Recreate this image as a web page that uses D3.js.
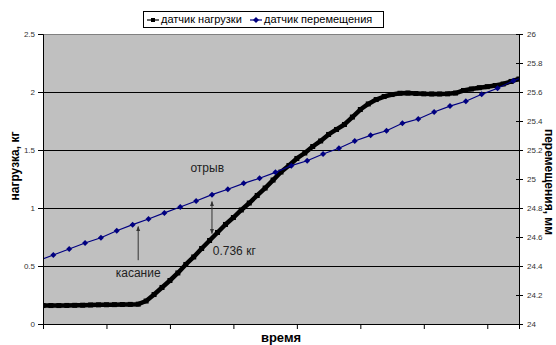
<!DOCTYPE html>
<html>
<head>
<meta charset="utf-8">
<script src="https://cdn.jsdelivr.net/npm/d3@7"></script>
<style>
  body { margin: 0; background: #fff; }
  text { font-family: "Liberation Sans", Arial, sans-serif; }
</style>
</head>
<body>
<svg id="chart" width="556" height="345"></svg>
<script>
// load sensor, one reading every 5 samples (kg)
const loadKg = [
  0.159, 0.159, 0.159, 0.160, 0.161, 0.162, 0.164, 0.165, 0.166, 0.167,
  0.168, 0.169, 0.171, 0.198, 0.254, 0.315, 0.375, 0.440, 0.513, 0.578,
  0.651, 0.720, 0.789, 0.858, 0.918, 0.983, 1.043, 1.108, 1.172, 1.241,
  1.310, 1.366, 1.427, 1.474, 1.530, 1.578, 1.634, 1.677, 1.720, 1.784,
  1.849, 1.897, 1.935, 1.961, 1.978, 1.989, 1.991, 1.987, 1.984, 1.983,
  1.983, 1.984, 1.991, 2.013, 2.026, 2.037, 2.046, 2.056, 2.069, 2.091,
  2.112
];
const loadStep = 5;

// displacement sensor, one reading every 10 samples (mm), starts just before the window
const dispMm = [
  24.434,
  24.476, 24.517, 24.559, 24.595, 24.643, 24.685, 24.724, 24.766, 24.807, 24.848,
  24.892, 24.929, 24.970, 25.005, 25.046, 25.092, 25.126, 25.172, 25.212, 25.262,
  25.301, 25.333, 25.384, 25.414, 25.462, 25.503, 25.536, 25.584, 25.626, 25.678,
  25.720
];
const dispStart = -3.5, dispStep = 10;

const leftTicks = [0, 0.5, 1, 1.5, 2, 2.5];
const rightTicks = [24, 24.2, 24.4, 24.6, 24.8, 25, 25.2, 25.4, 25.6, 25.8, 26];
const timeTicks = [0, 40, 80, 120, 160, 200, 240, 280];
const seriesNames = ['датчик нагрузки', 'датчик перемещения'];

const margin = {left: 43, right: 37, top: 34, bottom: 21};
const W = 556, H = 345;
const pw = W - margin.left - margin.right,
      ph = H - margin.top - margin.bottom;

const svg = d3.select('#chart');

const x = d3.scaleLinear().domain([0, 300]).range([0, pw]);
const yL = d3.scaleLinear().domain([0, 2.5]).range([ph, 0]);
const yR = d3.scaleLinear().domain([24, 26]).range([ph, 0]);

const defs = svg.append('defs');
defs.append('clipPath').attr('id', 'plotclip')
  .append('rect').attr('width', pw).attr('height', ph);
defs.append('marker')
  .attr('id', 'head')
  .attr('viewBox', '0 0 10 10')
  .attr('refX', 9).attr('refY', 5)
  .attr('markerWidth', 5).attr('markerHeight', 5)
  .attr('orient', 'auto-start-reverse')
  .append('path').attr('d', 'M0,1 L10,5 L0,9 Z').attr('fill', '#333');

const g = svg.append('g').attr('transform', `translate(${margin.left},${margin.top})`);

// plot background
g.append('rect').attr('width', pw).attr('height', ph).attr('fill', '#c0c0c0');

// horizontal grid
g.append('g').selectAll('line')
  .data(leftTicks.filter(function(d) { return d > 0 && d < 2.5; }))
  .enter().append('line')
  .attr('x1', 0).attr('x2', pw)
  .attr('y1', function(d) { return Math.round(yL(d)) + 0.5; })
  .attr('y2', function(d) { return Math.round(yL(d)) + 0.5; })
  .attr('stroke', '#000').attr('stroke-width', 1);

// top border
g.append('line').attr('x1', 0).attr('x2', pw).attr('y1', 0.5).attr('y2', 0.5)
  .attr('stroke', '#808080');

const plot = g.append('g').attr('clip-path', 'url(#plotclip)');

// load series: thick black line of square markers
const loadPts = loadKg.map(function(v, i) { return {t: i * loadStep, v: v}; });
plot.append('path')
  .datum(loadPts)
  .attr('fill', 'none').attr('stroke', '#000').attr('stroke-width', 4.5)
  .attr('stroke-linejoin', 'round')
  .attr('d', d3.line().x(function(d) { return x(d.t); }).y(function(d) { return yL(d.v); }));
plot.append('g').selectAll('rect')
  .data(loadPts)
  .enter().append('rect')
  .attr('x', function(d) { return x(d.t) - 2.5; })
  .attr('y', function(d) { return yL(d.v) - 2.5; })
  .attr('width', 5).attr('height', 5)
  .attr('fill', '#000');

// displacement series
const dispPts = dispMm.map(function(v, i) { return {t: dispStart + i * dispStep, v: v}; });
plot.append('path')
  .datum(dispPts)
  .attr('fill', 'none').attr('stroke', '#000080').attr('stroke-width', 1.2)
  .attr('d', d3.line().x(function(d) { return x(d.t); }).y(function(d) { return yR(d.v); }));
plot.append('g').selectAll('path')
  .data(dispPts.filter(function(d) { return d.t >= 0 && d.t <= 300; }))
  .enter().append('path')
  .attr('transform', function(d) { return `translate(${x(d.t)},${yR(d.v)})`; })
  .attr('d', 'M0,-3 L3,0 L0,3 L-3,0 Z')
  .attr('fill', '#000080');

// axes
const leftAxis = g.append('g')
  .call(d3.axisLeft(yL).tickValues(leftTicks).tickSize(5).tickPadding(3)
    .tickFormat(function(d) { return d3.format('')(d); }));
const rightAxis = g.append('g').attr('transform', `translate(${pw},0)`)
  .call(d3.axisRight(yR).tickValues(rightTicks).tickSize(4).tickPadding(4)
    .tickFormat(function(d) { return d3.format('')(+d.toFixed(1)); }));
rightAxis.selectAll('.tick line').attr('x1', -3);
const bottomAxis = g.append('g').attr('transform', `translate(0,${ph})`)
  .call(d3.axisBottom(x).tickValues(timeTicks).tickSize(5).tickFormat(''));

[leftAxis, rightAxis, bottomAxis].forEach(function(ax) {
  ax.select('.domain').attr('stroke', '#000');
  ax.selectAll('.tick line').attr('stroke', '#000');
  ax.selectAll('text').attr('font-size', 8).attr('fill', '#333')
    .attr('font-family', '"Liberation Sans", Arial, sans-serif');
});
leftAxis.select('.domain').attr('d', `M-5,0.5H0.5V${ph + 0.5}H-5`);
rightAxis.select('.domain').attr('d', `M4,0.5H0.5V${ph + 0.5}H4`);

// axis titles
svg.append('text')
  .attr('transform', `translate(19,${margin.top + ph / 2 - 13}) rotate(-90)`)
  .attr('text-anchor', 'middle')
  .attr('font-size', 12).attr('font-weight', 'bold')
  .text('нагрузка, кг');
svg.append('text')
  .attr('transform', `translate(545,${margin.top + ph / 2 + 3}) rotate(90)`)
  .attr('text-anchor', 'middle')
  .attr('font-size', 12).attr('font-weight', 'bold')
  .text('перемещения, мм');
svg.append('text')
  .attr('x', margin.left + pw / 2).attr('y', 342)
  .attr('text-anchor', 'middle')
  .attr('font-size', 13).attr('font-weight', 'bold')
  .text('время');

// annotations
function label(t, kg, txt, anchor) {
  g.append('text')
    .attr('x', x(t)).attr('y', yL(kg))
    .attr('text-anchor', anchor)
    .attr('dominant-baseline', 'middle')
    .attr('font-size', 12).attr('fill', '#222')
    .text(txt);
}
function arrow(t, kgFrom, kgTo, both) {
  const l = g.append('line')
    .attr('x1', x(t)).attr('x2', x(t))
    .attr('y1', yL(kgFrom)).attr('y2', yL(kgTo))
    .attr('stroke', '#333').attr('stroke-width', 1)
    .attr('marker-end', 'url(#head)');
  if (both) l.attr('marker-start', 'url(#head)');
}
arrow(60, 0.55, 0.84, false);
label(60, 0.43, 'касание', 'middle');
arrow(106.5, 0.78, 1.055, true);
label(107, 0.62, '0.736 кг', 'start');
label(103.5, 1.335, 'отрыв', 'middle');

// legend
const lg = svg.append('g').attr('transform', 'translate(143,11)');
lg.append('rect').attr('x', 0.5).attr('y', 0.5).attr('width', 240).attr('height', 16)
  .attr('fill', '#fff').attr('stroke', '#000');
const items = [
  {name: seriesNames[0], color: '#000', shape: 'square', x: 4},
  {name: seriesNames[1], color: '#000080', shape: 'diamond', x: 107}
];
items.forEach(function(d) {
  const it = lg.append('g').attr('transform', `translate(${d.x},9)`);
  it.append('line').attr('x1', 0).attr('x2', 12).attr('stroke', d.color).attr('stroke-width', 1.2);
  if (d.shape === 'square') {
    it.append('rect').attr('x', 4).attr('y', -2).attr('width', 4).attr('height', 4).attr('fill', d.color);
  } else {
    it.append('path').attr('d', 'M6,-3 L9,0 L6,3 L3,0 Z').attr('fill', d.color);
  }
  it.append('text').attr('x', 14).attr('y', 0)
    .attr('dominant-baseline', 'middle').attr('font-size', 11)
    .text(d.name);
});
</script>
</body>
</html>
